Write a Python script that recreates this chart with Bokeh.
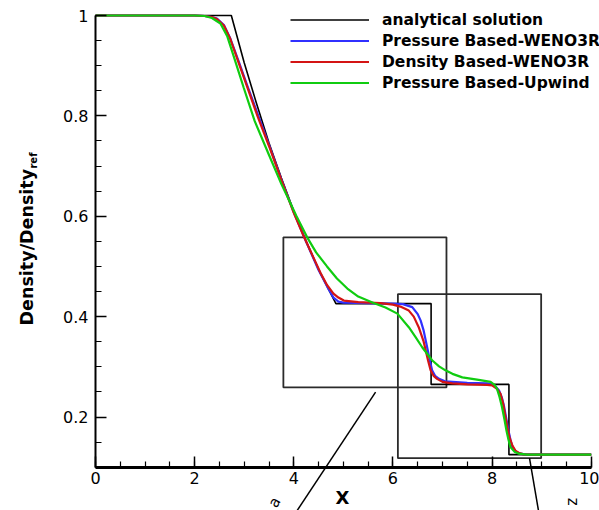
import math
from bokeh.plotting import figure
from bokeh.models import Range1d, FixedTicker, Label
from bokeh.embed import file_html
from bokeh.resources import INLINE

# ---------------- data ----------------
analytic_x = [0.0, 2.74, 3.0, 3.25, 3.5, 3.75, 4.0, 4.25, 4.5, 4.7, 4.85, 6.77, 6.77, 8.34, 8.34, 10.0]
analytic_y = [1.0, 1.0, 0.906, 0.824, 0.746, 0.676, 0.610, 0.550, 0.494, 0.455, 0.426, 0.426, 0.265, 0.265, 0.125, 0.125]

pbw_x = [0.0, 2.0, 2.2, 2.35, 2.45, 2.59, 2.72, 2.89, 3.06, 3.29, 3.5, 3.75, 4.0, 4.25, 4.5, 4.7, 4.8, 4.9, 5.0, 5.5,
         6.0, 6.2, 6.39, 6.5, 6.56, 6.62, 6.69, 6.75, 6.79, 6.85, 6.93, 7.05, 7.2, 7.5, 7.9, 8.0, 8.07, 8.14, 8.2, 8.24,
         8.29, 8.33, 8.37, 8.41, 8.48, 8.57, 8.7, 10.0]
pbw_y = [1.0, 1.0, 0.999, 0.997, 0.994, 0.981, 0.954, 0.908, 0.861, 0.799, 0.742, 0.673, 0.608, 0.549, 0.493, 0.455, 0.438, 0.430, 0.428, 0.427,
         0.426, 0.425, 0.419, 0.405, 0.392, 0.372, 0.339, 0.310, 0.293, 0.282, 0.276, 0.271, 0.270, 0.268, 0.267, 0.265, 0.261, 0.253, 0.238, 0.222,
         0.195, 0.173, 0.155, 0.140, 0.131, 0.127, 0.125, 0.125]

dbw_x = [0.0, 2.0, 2.2, 2.35, 2.45, 2.59, 2.72, 2.89, 3.06, 3.27, 3.5, 3.75, 4.0, 4.2, 4.4, 4.54, 4.67, 4.8, 4.9, 5.01,
         5.3, 5.75, 6.0, 6.15, 6.32, 6.42, 6.52, 6.62, 6.66, 6.71, 6.76, 6.82, 6.89, 7.0, 7.2, 7.5, 7.9, 8.0, 8.1, 8.17,
         8.22, 8.27, 8.31, 8.35, 8.41, 8.47, 8.55, 8.64, 8.8, 10.0]
dbw_y = [1.0, 1.0, 0.999, 0.997, 0.993, 0.980, 0.953, 0.905, 0.858, 0.799, 0.740, 0.672, 0.607, 0.560, 0.517, 0.487, 0.463, 0.446, 0.438, 0.432,
         0.429, 0.427, 0.424, 0.420, 0.412, 0.400, 0.379, 0.350, 0.333, 0.312, 0.293, 0.282, 0.276, 0.270, 0.267, 0.265, 0.264, 0.263, 0.256, 0.246,
         0.228, 0.200, 0.178, 0.160, 0.143, 0.133, 0.128, 0.1255, 0.125, 0.125]

pbu_x = [0.0, 2.0, 2.2, 2.35, 2.52, 2.66, 2.79, 2.99, 3.21, 3.5, 3.75, 3.9, 4.05, 4.27, 4.45, 4.67, 4.87, 5.08, 5.3, 5.61,
         5.85, 6.09, 6.32, 6.45, 6.59, 6.79, 6.93, 7.06, 7.2, 7.4, 7.73, 7.97, 8.05, 8.10, 8.15, 8.20, 8.25, 8.29, 8.33, 8.37,
         8.45, 8.54, 8.7, 10.0]
pbu_y = [1.0, 1.0, 0.999, 0.995, 0.984, 0.958, 0.918, 0.856, 0.790, 0.722, 0.664, 0.633, 0.601, 0.558, 0.528, 0.500, 0.476, 0.456, 0.440, 0.427,
         0.418, 0.406, 0.379, 0.360, 0.339, 0.313, 0.301, 0.293, 0.286, 0.279, 0.274, 0.270, 0.264, 0.256, 0.240, 0.220, 0.195, 0.173, 0.155, 0.140,
         0.131, 0.127, 0.125, 0.125]

series_names = ["analytical solution", "Pressure Based-WENO3R", "Density Based-WENO3R", "Pressure Based-Upwind"]

# zoom boxes
box_left = [3.79, 6.10]
box_right = [7.08, 8.99]
box_bottom = [0.259, 0.118]
box_top = [0.558, 0.445]
box_names = ["a", "z"]

# connector lines from the boxes
conn_x0 = [5.65, 8.755]
conn_y0 = [0.2496, 0.118]
conn_x1 = [3.936, 8.97]
conn_y1 = [-0.006, -0.006]
tag_x = [3.61, 9.62]
tag_y = [0.030, 0.031]

x_ticks = [0, 2, 4, 6, 8, 10]
y_ticks = [0.2, 0.4, 0.6, 0.8, 1.0]

# ---------------- figure ----------------
FONT = "DejaVu Sans"
# frame spans the whole canvas; axes are pinned inside it with fixed_location
p = figure(width=599, height=510, x_range=Range1d(-1.9165, 10.167), y_range=Range1d(0.0137, 1.0299),
           output_backend="svg", toolbar_location=None,
           min_border_left=0, min_border_right=0, min_border_top=0, min_border_bottom=0)
p.outline_line_color = None
p.grid.visible = False
p.background_fill_color = "white"
p.border_fill_color = "white"

# boxes
p.quad(left=box_left, right=box_right, bottom=box_bottom, top=box_top,
       fill_color=None, line_color="#2b2b2b", line_width=1.8)

colors = ["black", "#3030ff", "#d41414", "#10cc10"]
widths = [1.6, 2.2, 2.2, 2.2]
xs = [analytic_x, pbw_x, dbw_x, pbu_x]
ys = [analytic_y, pbw_y, dbw_y, pbu_y]
for xx, yy, c, w, name in zip(xs, ys, colors, widths, series_names):
    p.line(xx, yy, line_color=c, line_width=w, legend_label=name)

# connectors and their tags
p.segment(x0=conn_x0, y0=conn_y0, x1=conn_x1, y1=conn_y1, line_color="black", line_width=1.5)
for tx, ty, nm, ang in zip(tag_x, tag_y, box_names, [1.05, math.pi / 2]):
    p.add_layout(Label(x=tx, y=ty, text=nm, angle=ang, text_align="center", text_baseline="middle",
                       text_font=FONT, text_font_size="15px", text_color="black"))

# axes
xa = p.xaxis[0]
xa.fixed_location = 0.1
xa.bounds = (0, 10)
xa.ticker = FixedTicker(ticks=x_ticks, minor_ticks=[v * 0.5 for v in range(0, 21)])
xa.axis_line_width = 3
xa.major_tick_in = 11
xa.major_tick_out = 0
xa.minor_tick_in = 6
xa.minor_tick_out = 0
xa.major_tick_line_width = 1.5
xa.minor_tick_line_width = 1.2
xa.major_label_text_font = FONT
xa.major_label_text_font_size = "16px"
xa.major_label_text_color = "black"
xa.major_label_standoff = 5
xa.axis_label = None

ya = p.yaxis[0]
ya.fixed_location = 0
ya.bounds = (0.1, 1.0)
ya.ticker = FixedTicker(ticks=y_ticks, minor_ticks=[0.1 + v * 0.05 for v in range(0, 19)])
ya.axis_line_width = 2
ya.major_tick_in = 11
ya.major_tick_out = 0
ya.minor_tick_in = 6
ya.minor_tick_out = 0
ya.major_tick_line_width = 1.5
ya.minor_tick_line_width = 1.2
ya.major_label_text_font = FONT
ya.major_label_text_font_size = "16px"
ya.major_label_text_color = "black"
ya.major_label_standoff = 7
ya.major_label_overrides = {1: "1"}
ya.axis_label = None

# axis titles as labels
p.add_layout(Label(x=4.98, y=0.0398, text="X", text_align="center", text_baseline="middle",
                   text_font=FONT, text_font_style="bold", text_font_size="18px", text_color="black"))
p.add_layout(Label(x=-1.372, y=0.3825, text="Density/Density", angle=math.pi / 2,
                   text_align="left", text_baseline="alphabetic",
                   text_font=FONT, text_font_style="bold", text_font_size="17.5px", text_color="black"))
p.add_layout(Label(x=-1.251, y=0.695, text="ref", angle=math.pi / 2,
                   text_align="left", text_baseline="alphabetic",
                   text_font=FONT, text_font_style="bold", text_font_size="10px", text_color="black"))

# legend
lg = p.legend[0]
lg.location = (290, 417)
lg.border_line_alpha = 0
lg.background_fill_alpha = 0
lg.padding = 0
lg.margin = 0
lg.spacing = 0
lg.glyph_width = 79
lg.glyph_height = 21
lg.label_height = 21
lg.label_standoff = 13
lg.label_text_font = FONT
lg.label_text_font_style = "bold"
lg.label_text_font_size = "15.5px"
lg.label_text_color = "black"

open("out.html", "w").write(file_html(p, INLINE))
